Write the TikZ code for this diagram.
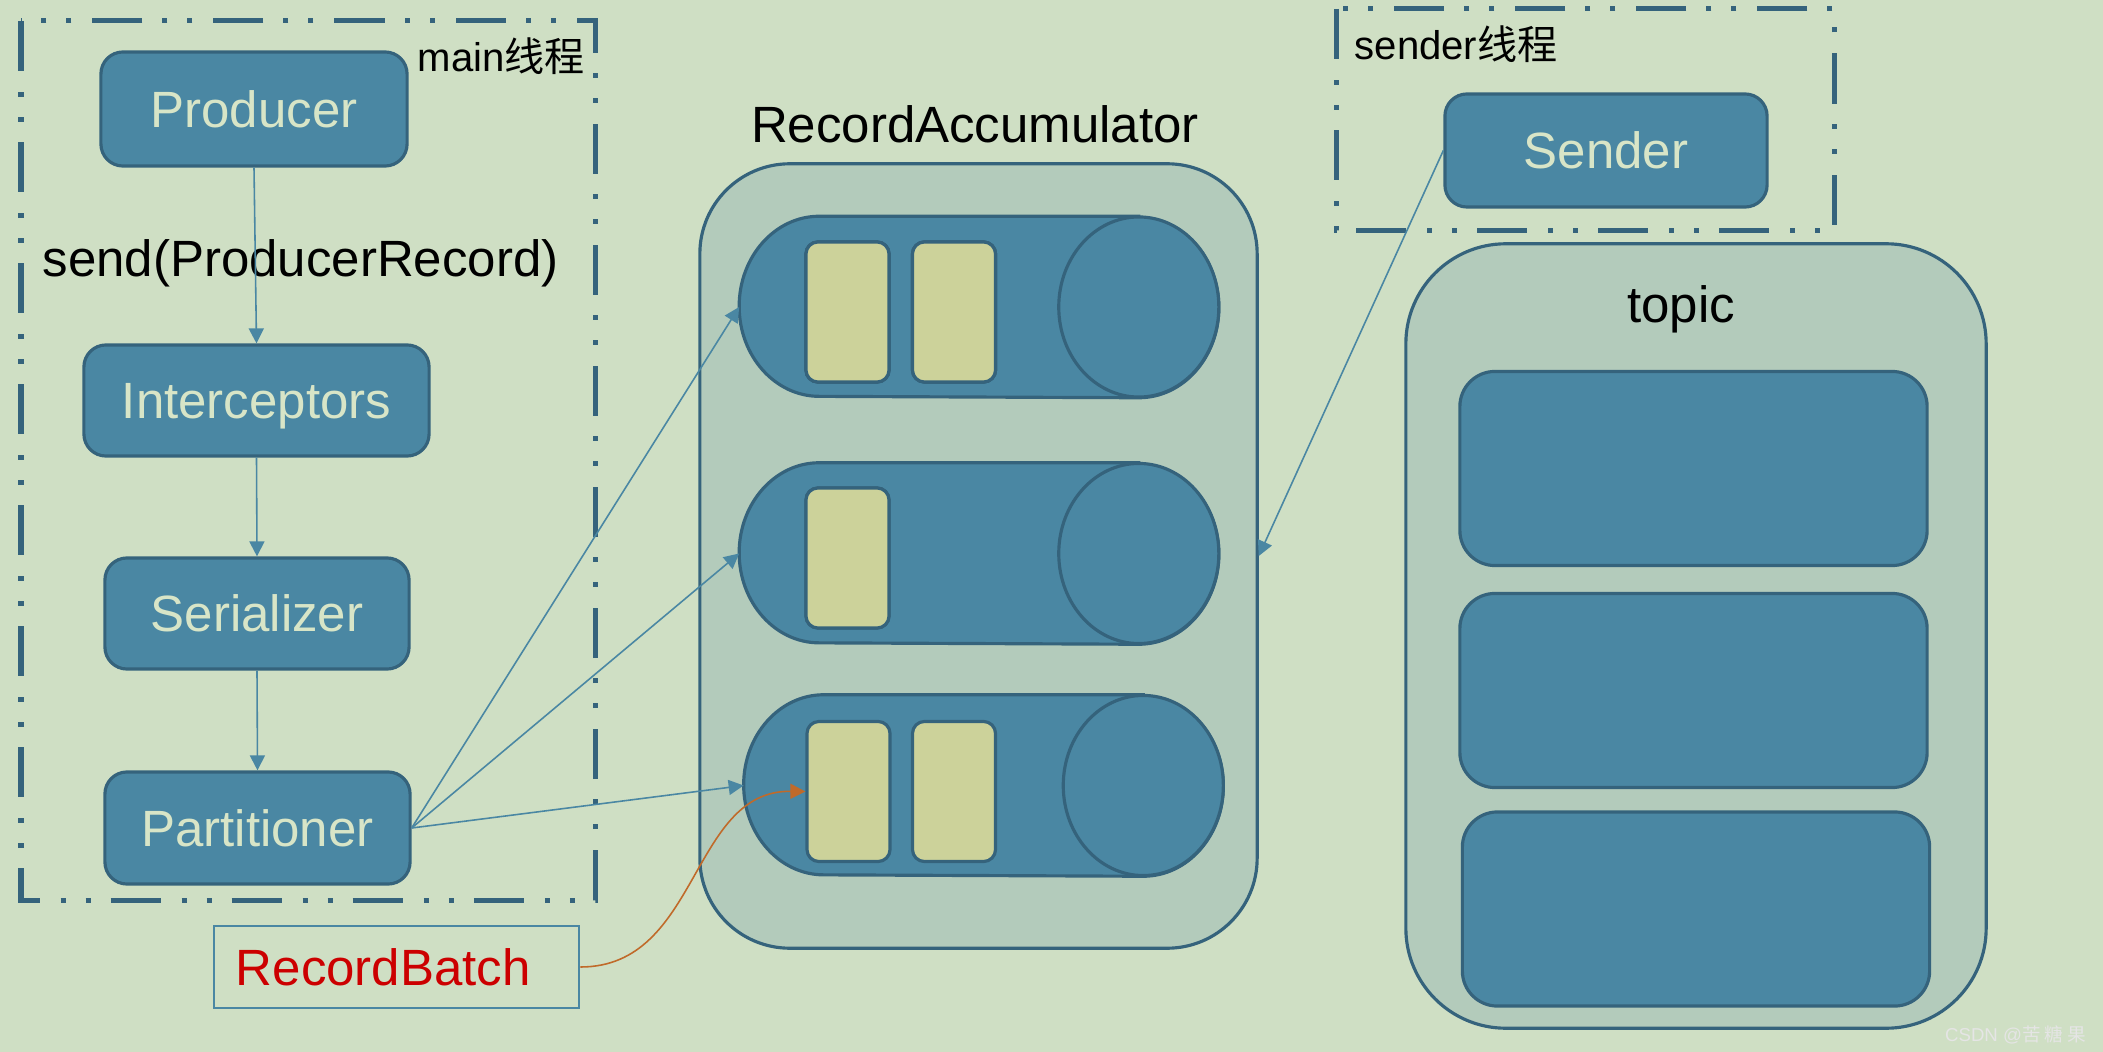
\documentclass[tikz,border=0pt]{standalone}
\usepackage{fontspec}
\setmainfont{Liberation Sans}
\newfontfamily\cjk{Noto Sans CJK SC}
\usetikzlibrary{arrows.meta}
\definecolor{bgcol}{RGB}{207,223,196}
\definecolor{boxcol}{RGB}{74,135,163}
\definecolor{edgecol}{RGB}{53,99,124}
\definecolor{poolcol}{RGB}{179,203,187}
\definecolor{batchcol}{RGB}{204,210,154}
\definecolor{labelcol}{RGB}{216,229,199}
\definecolor{curvecol}{RGB}{192,106,42}
\definecolor{recordred}{RGB}{204,0,0}

% horizontal drum drawn round an (invisible) queue node
\newcommand{\drawqueue}[1]{%
    \draw[qline] ([xshift=-0.8cm]#1.north east) -- ([xshift=0.8cm]#1.north west)
        arc[start angle=90, end angle=270, x radius=0.8cm, y radius=0.9cm]
        -- ([xshift=-0.8cm]#1.south east)
        arc[start angle=-90, end angle=90, x radius=0.8cm, y radius=0.9cm] -- cycle;
    \draw[qline] ([xshift=-0.8cm]#1.east) ellipse[x radius=0.8cm, y radius=0.9cm];}

\begin{document}
\begin{tikzpicture}[x=0.01cm, y=-0.01cm,
    stage/.style={draw=edgecol, line width=0.9pt, fill=boxcol, rounded corners=0.22cm, text=labelcol,
        font=\fontsize{14.5}{16}\selectfont, text height=10.4pt, text depth=0pt, inner sep=0pt},
    pool/.style={draw=edgecol, line width=0.9pt, fill=poolcol, rounded corners=0.9cm, inner sep=0pt},
    queue/.style={minimum width=4.78cm, minimum height=1.8cm, inner sep=0pt},
    qline/.style={draw=edgecol, line width=0.9pt, fill=boxcol},
    batch/.style={draw=edgecol, line width=0.9pt, fill=batchcol, rounded corners=0.12cm,
        minimum width=0.83cm, minimum height=1.4cm, inner sep=0pt},
    part/.style={draw=edgecol, line width=0.9pt, fill=boxcol, rounded corners=0.35cm,
        minimum width=4.67cm, minimum height=1.94cm, inner sep=0pt},
    thread/.style={draw=edgecol, line width=0.05cm,
        dash pattern=on 0.5cm off 0.21cm on 0.05cm off 0.2cm on 0.05cm off 0.2cm},
    flow/.style={draw=boxcol, line width=0.45pt, -{Triangle[length=0.15cm,width=0.15cm]}},
    txt/.style={font=\fontsize{14.5}{16}\selectfont, anchor=base, inner sep=0pt},
    small/.style={font=\fontsize{11.4}{13}\selectfont, anchor=base west, inner sep=0pt}
]
\fill[bgcol] (0,0) rectangle (2103,1052);              % page background

    \draw[thread] (21,21) rectangle (595,900);         % main thread frame
    \draw[thread] (1336,9) rectangle (1834,231);       % sender thread frame

    \node[small] (mainlabel) at (417,72) {main{\cjk 线程}};
    \node[small] (senderlabel) at (1354,60) {sender{\cjk 线程}};

    % producer side
    \node[stage, minimum width=3.06cm, minimum height=1.14cm] (producer) at (254,109) {Producer};
    \node[txt, anchor=base west] (sendlabel) at (42,277) {send(ProducerRecord)};
    \node[stage, minimum width=3.45cm, minimum height=1.11cm] (interceptors) at (256.5,400.5) {Interceptors};
    \node[stage, minimum width=3.04cm, minimum height=1.11cm] (serializer) at (257,613.5) {Serializer};
    \node[stage, minimum width=3.05cm, minimum height=1.12cm] (partitioner) at (257.5,828) {Partitioner};

    \node[draw=boxcol, line width=0.7pt, text=recordred, font=\fontsize{14.5}{16}\selectfont,
        text height=10.4pt, text depth=0pt, inner xsep=0.22cm, text width=3.21cm, align=left,
        minimum height=0.82cm] (rb) at (396.5,967) {RecordBatch};

    % accumulator with its queues
    \node[txt] (acclabel) at (975,143) {RecordAccumulator};
    \node[pool, minimum width=5.57cm, minimum height=7.84cm] (acc) at (978.5,556) {};
    \node[queue] (q1) at (979,307) {};
    \node[queue] (q2) at (979,553.5) {};
    \node[queue] (q3) at (983.5,785.5) {};
    \foreach \q in {q1,q2,q3}
        \drawqueue{\q}
    \foreach \n/\x/\y in {b11/847.5/312, b12/954/312, b21/847.5/558, b31/848.5/791.5, b32/954/791.5}
        \node[batch] (\n) at (\x,\y) {};

    % sender and topic
    \node[stage, minimum width=3.22cm, minimum height=1.13cm] (sender) at (1606,150.5) {Sender};
    \node[pool, rounded corners=1cm, minimum width=5.8cm, minimum height=7.84cm] (topic) at (1696,636) {};
    \node[txt] (topiclabel) at (1681,323) {topic};
    \node[part] (p1) at (1693.5,468.5) {};
    \node[part] (p2) at (1693.5,690.5) {};
    \node[part] (p3) at (1696,909) {};

    % connectors
    \draw[flow] (producer.south) -- (interceptors.north);
    \draw[flow] (interceptors.south) -- (serializer.north);
    \draw[flow] (serializer.south) -- (partitioner.north);
    \foreach \q in {q1,q2,q3}
        \draw[flow] (partitioner.east) -- (\q.west);
    \draw[flow] (sender.west) -- (acc.east);
    \draw[flow, draw=curvecol] (rb.east) .. controls (700,967) and (690,790) .. (b31.west);

    \node[font=\fontsize{5.3}{6}\selectfont, text=white!80!gray, anchor=base east, inner sep=0pt]
        (mark) at (2087,1041) {CSDN @{\cjk 苦 糖 果}};

\end{tikzpicture}
\end{document}
